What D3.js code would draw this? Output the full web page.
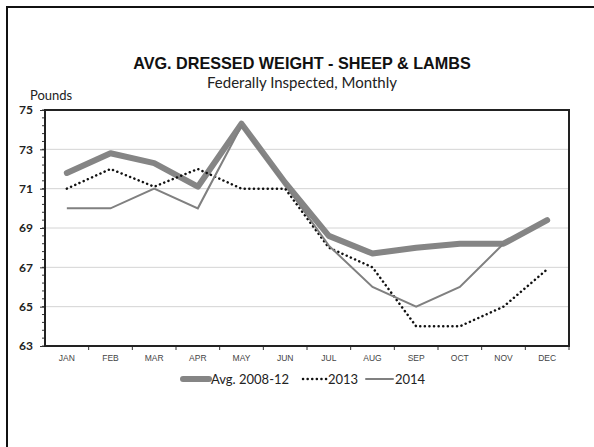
<!DOCTYPE html>
<html><head><meta charset="utf-8">
<script src="https://cdn.jsdelivr.net/npm/d3@7"></script>
<style>body{margin:0;background:#fff}svg{display:block}</style>
</head><body>
<script>
const months = ["JAN","FEB","MAR","APR","MAY","JUN","JUL","AUG","SEP","OCT","NOV","DEC"];
const avg0812 = [71.8,72.8,72.3,71.1,74.3,71.3,68.6,67.7,68.0,68.2,68.2,69.4];
const y2013 = [71.0,72.0,71.1,72.0,71.0,71.0,68.0,67.0,64.0,64.0,65.0,66.9];
const y2014 = [70.0,70.0,71.0,70.0,74.2,71.2,68.1,66.0,65.0,66.0,68.2,null];
const yTicks = [63,65,67,69,71,73,75];
const seriesNames = ["Avg. 2008-12","2013","2014"];

const W=594,H=447;
const svg=d3.select("body").append("svg").attr("width",W).attr("height",H);
svg.append("rect").attr("width",W).attr("height",H).attr("fill","#fff");
svg.append("path").attr("d",`M7,${H} V7 H${W}`).attr("fill","none").attr("stroke","#111").attr("stroke-width",2);

const L=45,R=569,T=110,B=346;
const x=d3.scaleBand().domain(months).range([L,R]).padding(0);
const cx=m=>x(m)+x.bandwidth()/2;
const y=d3.scaleLinear().domain([63,75]).range([B,T]);

svg.append("g").selectAll("line").data(yTicks.filter(t=>t>63&&t<75)).join("line")
 .attr("x1",L).attr("x2",R).attr("y1",d=>y(d)).attr("y2",d=>y(d))
 .attr("stroke","#d4d4d4").attr("stroke-width",1);

const minor=d3.range(63,75.001,0.4);
svg.append("g").selectAll("line").data(minor).join("line")
 .attr("x1",L-3).attr("x2",L).attr("y1",d=>y(d)).attr("y2",d=>y(d))
 .attr("stroke","#333").attr("stroke-width",1);

const ya=svg.append("g").attr("transform",`translate(${L},0)`)
 .call(d3.axisLeft(y).tickValues(yTicks).tickSize(5).tickFormat(d3.format("d")));
ya.select(".domain").remove();
ya.selectAll("line").attr("stroke","#333");
ya.selectAll("text").attr("font-family","Lato").attr("font-size",12).attr("font-weight",700).attr("fill","#222").attr("x",-12);

const xa=svg.append("g").attr("transform",`translate(0,${B})`)
 .call(d3.axisBottom(x).tickSize(0).tickPadding(9));
xa.select(".domain").remove();
xa.selectAll("text").attr("font-family","Liberation Sans Narrow, Liberation Sans").attr("font-size",8.5).attr("fill","#444");
svg.append("g").selectAll("line").data(months.slice(1).concat(["end"])).join("line")
 .attr("x1",d=>d==="end"?R:x(d)).attr("x2",d=>d==="end"?R:x(d)).attr("y1",B).attr("y2",B+4)
 .attr("stroke","#333");

svg.append("rect").attr("x",L).attr("y",T).attr("width",R-L).attr("height",B-T)
 .attr("fill","none").attr("stroke","#222").attr("stroke-width",2);

const line=d3.line().defined(d=>d[1]!=null).x(d=>cx(d[0])).y(d=>y(d[1]));
const pts=a=>months.map((m,i)=>[m,a[i]]);

svg.append("path").attr("d",line(pts(avg0812))).attr("fill","none")
 .attr("stroke","#858585").attr("stroke-width",6).attr("stroke-linejoin","round").attr("stroke-linecap","round");
svg.append("path").attr("d",line(pts(y2013))).attr("fill","none")
 .attr("stroke","#111").attr("stroke-width",2.5).attr("stroke-dasharray","0.1,4.5").attr("stroke-linecap","round");
svg.append("path").attr("d",line(pts(y2014))).attr("fill","none")
 .attr("stroke","#808080").attr("stroke-width",2);

svg.append("text").attr("x",302).attr("y",69).attr("text-anchor","middle")
 .attr("font-family","Liberation Sans").attr("font-weight",700).attr("font-size",16.2).attr("fill","#111")
 .text("AVG. DRESSED WEIGHT - SHEEP & LAMBS");
svg.append("text").attr("x",302).attr("y",88).attr("text-anchor","middle")
 .attr("font-family","Lato").attr("font-size",15).attr("fill","#222")
 .text("Federally Inspected, Monthly");
svg.append("text").attr("x",30).attr("y",100)
 .attr("font-family","Lato").attr("font-size",13).attr("fill","#222").text("Pounds");

const lg=svg.append("g").attr("font-family","Lato").attr("font-size",13).attr("fill","#222");
const items=[
 {x:183,w:26,stroke:"#858585",sw:6,dash:null,tx:211},
 {x:303,w:24,stroke:"#111",sw:2.5,dash:"0.1,4.5",tx:328},
 {x:366,w:27,stroke:"#808080",sw:2,dash:null,tx:395}];
items.forEach((it,i)=>{
 lg.append("line").attr("x1",it.x).attr("x2",it.x+it.w).attr("y1",379).attr("y2",379)
  .attr("stroke",it.stroke).attr("stroke-width",it.sw)
  .attr("stroke-linecap","round").attr("stroke-dasharray",it.dash);
 lg.append("text").attr("x",it.tx).attr("y",384).text(seriesNames[i]);
});
</script>
</body></html>
